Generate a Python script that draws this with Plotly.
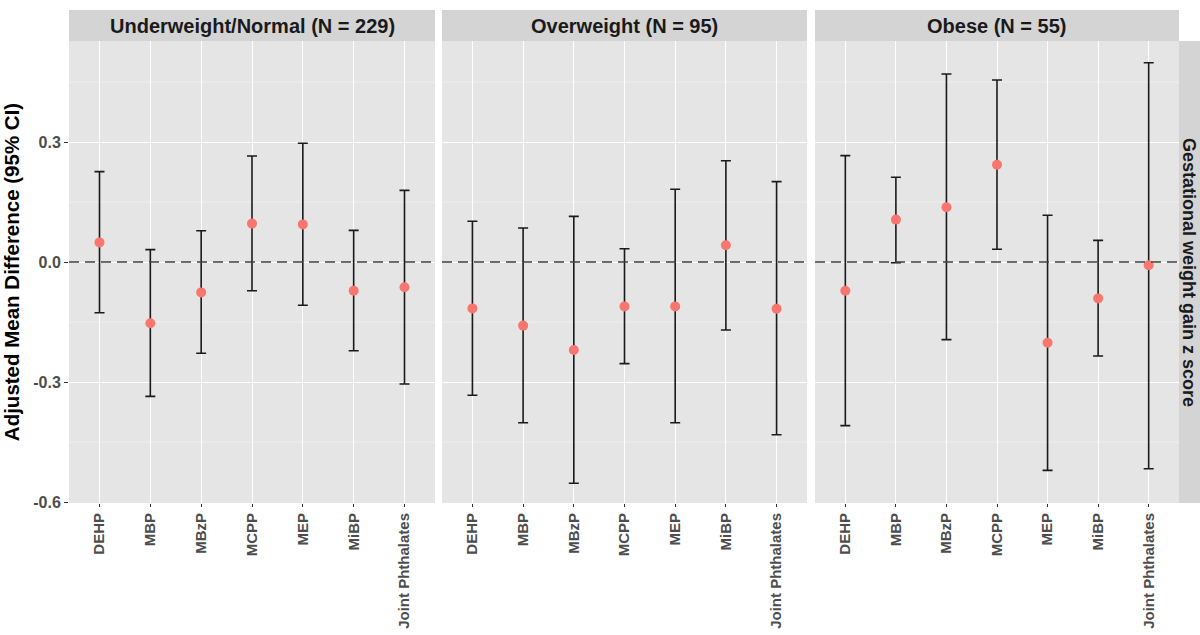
import plotly.graph_objects as go

categories = ["DEHP", "MBP", "MBzP", "MCPP", "MEP", "MiBP", "Joint Phthalates"]
panel_titles = ["Underweight/Normal (N = 229)", "Overweight (N = 95)", "Obese (N = 55)"]
row_strip = "Gestational weight gain z score"

normal_est = [0.049, -0.153, -0.076, 0.096, 0.094, -0.072, -0.063]
normal_lower = [-0.127, -0.336, -0.228, -0.072, -0.108, -0.222, -0.305]
normal_upper = [0.226, 0.031, 0.078, 0.265, 0.297, 0.079, 0.179]

over_est = [-0.116, -0.159, -0.220, -0.111, -0.111, 0.042, -0.117]
over_lower = [-0.333, -0.402, -0.553, -0.254, -0.402, -0.170, -0.432]
over_upper = [0.102, 0.085, 0.114, 0.033, 0.182, 0.253, 0.201]

obese_est = [-0.072, 0.106, 0.137, 0.243, -0.202, -0.091, -0.008]
obese_lower = [-0.409, -0.002, -0.194, 0.032, -0.521, -0.235, -0.517]
obese_upper = [0.266, 0.212, 0.470, 0.455, 0.117, 0.054, 0.498]

y_ticks = [-0.6, -0.3, 0.0, 0.3]
y_ticktext = ["-0.6", "-0.3", "0.0", "0.3"]
y_minor = [-0.45, -0.15, 0.15, 0.45]

groups = [
    (normal_est, normal_lower, normal_upper),
    (over_est, over_lower, over_upper),
    (obese_est, obese_lower, obese_upper),
]

W, H = 1200, 635
ML, MR, MT, MB = 69, 21, 41, 132
PW = W - ML - MR
PH = H - MT - MB
panels_px = [(69, 435), (442, 807), (815, 1179)]
domains = [((a - ML) / PW, (b - ML) / PW) for a, b in panels_px]

FONT = "Liberation Sans, Arial, Helvetica, sans-serif"

fig = go.Figure()
for i, (est, lo, up) in enumerate(groups):
    sfx = "" if i == 0 else str(i + 1)
    fig.add_trace(go.Scatter(
        x=categories, y=est, mode="markers",
        marker=dict(color="#F8766D", size=10, line=dict(width=0)),
        error_y=dict(type="data", symmetric=False,
                     array=[u - e for u, e in zip(up, est)],
                     arrayminus=[e - l for e, l in zip(est, lo)],
                     color="#1a1a1a", thickness=1.6, width=5),
        xaxis="x" + sfx, yaxis="y" + sfx, showlegend=False, hoverinfo="skip",
    ))

layout = dict(
    width=W, height=H,
    margin=dict(l=ML, r=MR, t=MT, b=MB, autoexpand=False),
    paper_bgcolor="white", plot_bgcolor="#E5E5E5",
    font=dict(family=FONT),
    showlegend=False,
)
shapes = []
annotations = []
for i in range(3):
    sfx = "" if i == 0 else str(i + 1)
    layout["xaxis" + sfx] = dict(
        domain=list(domains[i]), anchor="y" + sfx, type="category",
        categoryorder="array", categoryarray=categories,
        range=[-0.6, 6.6], showgrid=True, gridcolor="white", gridwidth=1.3,
        zeroline=False, showline=False, ticks="outside", ticklen=3,
        tickcolor="#333333", tickangle=-90, automargin=False,
        tickfont=dict(family=FONT, size=15, color="#4D4D4D", weight="bold"),
        fixedrange=True,
    )
    ya = dict(
        domain=[0, 1], anchor="x" + sfx, range=[-0.6025, 0.5525],
        tickvals=y_ticks, ticktext=y_ticktext, automargin=False,
        showgrid=True, gridcolor="white", gridwidth=1.3,
        zeroline=False, showline=False, fixedrange=True,
    )
    if i == 0:
        ya.update(ticks="outside", ticklen=4, tickcolor="#333333",
                  tickfont=dict(family=FONT, size=16, color="#4D4D4D", weight="bold"),
                  title=dict(text="Adjusted Mean Difference (95% CI)",
                             font=dict(family=FONT, size=20.5, color="black", weight="bold"),
                             standoff=8))
    else:
        ya.update(showticklabels=False, ticks="")
    layout["yaxis" + sfx] = ya

    # minor horizontal gridlines (thin white)
    for v in y_minor:
        shapes.append(dict(type="line", xref="x" + sfx + " domain", yref="y" + sfx,
                           x0=0, x1=1, y0=v, y1=v, layer="below",
                           line=dict(color="#F2F2F2", width=0.8)))
    # dashed zero reference line
    shapes.append(dict(type="line", xref="x" + sfx + " domain", yref="y" + sfx,
                       x0=0, x1=1, y0=0, y1=0, layer="above",
                       line=dict(color="#404040", width=1.5, dash="10px,6px")))
    # top strip
    shapes.append(dict(type="rect", xref="paper", yref="paper",
                       x0=domains[i][0], x1=domains[i][1], y0=1, y1=1 + 31 / PH,
                       fillcolor="#D4D4D4", line=dict(width=0), layer="below"))
    annotations.append(dict(text=panel_titles[i], xref="paper", yref="paper",
                            x=(domains[i][0] + domains[i][1]) / 2, y=1 + 15.5 / PH,
                            xanchor="center", yanchor="middle", showarrow=False,
                            font=dict(family=FONT, size=20, color="#1A1A1A", weight="bold")))

# right strip
shapes.append(dict(type="rect", xref="paper", yref="paper",
                   x0=1.0, x1=1.0 + 40 / PW, y0=0, y1=1,
                   fillcolor="#D4D4D4", line=dict(width=0), layer="below"))
annotations.append(dict(text=row_strip, xref="paper", yref="paper",
                        x=1.0 + 10 / PW, y=0.5, xanchor="center", yanchor="middle",
                        textangle=90, showarrow=False,
                        font=dict(family=FONT, size=18, color="#1A1A1A", weight="bold")))

layout["shapes"] = shapes
layout["annotations"] = annotations
fig.update_layout(**layout)
fig.write_html("out.html")
